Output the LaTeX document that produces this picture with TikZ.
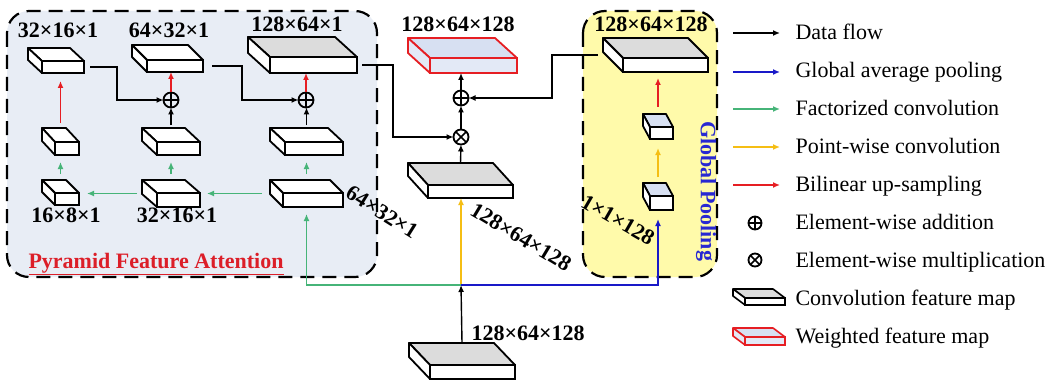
\documentclass[tikz,border=0pt]{standalone}
\usepackage{fontspec}
\setmainfont{Liberation Serif}
\usetikzlibrary{arrows.meta}
\definecolor{pfabg}{RGB}{232,237,245}
\definecolor{gpbg}{RGB}{255,250,170}
\definecolor{ared}{RGB}{230,30,35}
\definecolor{agreen}{RGB}{70,180,120}
\definecolor{ayellow}{RGB}{245,190,20}
\definecolor{ablue}{RGB}{25,25,200}
\definecolor{lgray}{RGB}{220,220,220}
\definecolor{lblue}{RGB}{215,224,242}
\definecolor{gblue}{RGB}{40,40,210}
\definecolor{tred}{RGB}{220,30,40}
\newcommand{\bigfs}{\fontsize{22}{26}\selectfont}
\def\fmlw{1.8pt}
% name, center, w, h, dx, dy, edge, top, front
\newcommand{\fmap}[9]{%
 \node[draw=#7,fill=#9,line width=\fmlw,inner sep=0pt,outer sep=0pt,minimum width=#3pt,minimum height=#4pt] (#1) at (#2) {};
 \filldraw[draw=#7,fill=#8,line width=\fmlw,line join=round] (#1.north west) -- ++(-#5,-#6) -- ++(#3,0) -- (#1.north east) -- cycle;
 \filldraw[draw=#7,fill=#9,line width=\fmlw,line join=round] (#1.north west) -- ++(-#5,-#6) -- ++(0,#4) -- (#1.south west) -- cycle;
 \path (#1.north) ++(-#5/2,-#6) coordinate (#1-t);
 \path (#1.south) ++(-#5/2,0) coordinate (#1-b);
 \path (#1.west) ++(-#5,-#6/2) coordinate (#1-w);
}
\tikzset{
 lab/.style={font=\bigfs\bfseries, anchor=base},
 txt/.style={font=\bigfs, anchor=base west},
 con/.style={line width=1.4pt,-{Latex[length=7pt,width=6pt]}},
 blk/.style={con,draw=black},
 rd/.style={con,draw=ared},
 gr/.style={con,draw=agreen},
 yl/.style={con,draw=ayellow},
 bl/.style={con,draw=ablue},
 opl/.style={circle,draw,line width=1.8pt,minimum size=15pt,inner sep=0pt,outer sep=0pt,
   path picture={\draw[line width=1.6pt] (path picture bounding box.north) -- (path picture bounding box.south) (path picture bounding box.west) -- (path picture bounding box.east);}},
 otm/.style={circle,draw,line width=1.8pt,minimum size=15pt,inner sep=0pt,outer sep=0pt,
   path picture={\draw[line width=1.6pt] (path picture bounding box.north west) -- (path picture bounding box.south east) (path picture bounding box.north east) -- (path picture bounding box.south west);}},
 dbox/.style={draw=black,line width=2.2pt,dash pattern=on 14pt off 8pt,rounded corners=22pt},
}
\begin{document}
\begin{tikzpicture}[x=1pt,y=-1pt]
\fill[white] (0,0) rectangle (1048,385);
\useasboundingbox (0,0) rectangle (1048,385);
% group frames
\draw[dbox,fill=pfabg] (7,11) rectangle (377,277);
\draw[dbox,fill=gpbg] (583,11) rectangle (717,277);
% feature maps
\fmap{A}{63,67}{42}{12}{14}{13}{black}{white}{white}
\fmap{B}{175,66}{56}{12}{15}{15}{black}{white}{white}
\fmap{C}{313.5,65}{87}{16}{22}{20}{black}{lgray}{white}
\fmap{D}{67,148.5}{24}{13}{13}{14}{black}{white}{white}
\fmap{E}{178.5,148.5}{43}{13}{15}{14}{black}{white}{white}
\fmap{F}{314,148.5}{58}{13}{15}{14}{black}{white}{white}
\fmap{G}{67,199}{24}{12}{13}{13}{black}{white}{white}
\fmap{H}{178.5,200}{43}{14}{15}{13}{black}{white}{white}
\fmap{I}{313,200}{60}{14}{13}{13}{black}{white}{white}
\fmap{R}{473.5,65.5}{87}{15}{22}{20}{ared}{lblue}{lblue!70}
\fmap{M}{470.5,191.5}{85}{13}{20}{22}{black}{lgray}{white}
\fmap{Bt}{472.5,372}{85}{14}{21}{22}{black}{lgray}{white}
\fmap{Y}{665.5,65}{85}{14}{20}{20}{black}{lgray}{white}
\fmap{U}{661.5,133}{23}{12}{7}{13}{black}{lblue}{white}
\fmap{L}{661.5,203}{23}{14}{7}{13}{black}{lblue}{white}
% operators
\node[opl] (p1) at (171,100) {};
\node[opl] (p2) at (306,100) {};
\node[opl] (pc) at (461,98) {};
\node[otm] (ox) at (461,137) {};
\coordinate (J) at (461,285);
% labels
\node[lab] (la) at (58,38) {32×16×1};
\node[lab] (lb) at (169,38) {64×32×1};
\node[lab] (lc) at (297,32) {128×64×1};
\node[lab] (lg) at (66,222) {16×8×1};
\node[lab] (lh) at (177,222) {32×16×1};
\node[lab] (lr) at (458,32) {128×64×128};
\node[lab] (ly) at (651,32) {128×64×128};
\node[lab,anchor=base west] (lbt) at (468,340) {128×64×128};
\node[lab,anchor=center,rotate=-32] (li) at (382,212) {64×32×1};
\node[lab,anchor=center,rotate=-31] (lm) at (521,237) {128×64×128};
\node[lab,anchor=center,rotate=-30] (ll) at (618,220) {1×1×128};
\node[font=\bigfs\bfseries,text=gblue,rotate=-90] (gp) at (706,191) {Global Pooling};
\node[font=\bigfs\bfseries,text=tred,anchor=base west] (pfa) at (25,268) {\underline{Pyramid Feature Attention}};
% connectors PFA
\draw[blk] ([xshift=6pt]A.east) -- ++(27,0) |- (p1.west);
\draw[blk] ([xshift=9pt]B.east) -- ++(30,0) |- (p2.west);
\draw[blk] ([xshift=5pt]C.east) -- ++(31,0) |- (ox.west);
\draw[blk,shorten <=3pt] (E-t) -- (E-t |- p1.south);
\draw[blk,shorten <=3pt] (F-t) -- (F-t |- p2.south);
\draw[rd,shorten <=5pt,shorten >=8pt] (D-t) -- (D-t |- A.south);
\draw[rd] (p1.north) -- (p1.north |- B.south);
\draw[rd] (p2.north) -- (p2.north |- C.south);
\draw[gr,shorten <=6pt,shorten >=7pt] (G-t) -- (G-t |- D.south);
\draw[gr,shorten <=6pt,shorten >=7pt] (H-t) -- (H-t |- E.south);
\draw[gr,shorten <=6pt,shorten >=7pt] (I-t) -- (I-t |- F.south);
\draw[gr,shorten <=8pt,shorten >=7pt] (I-w) -- (I-w -| H.east);
\draw[gr,shorten <=5pt,shorten >=8pt] (H-w) -- (H-w -| G.east);
% middle
\draw[blk] (M-t) -- (ox.south);
\draw[blk] (ox.north) -- (pc.south);
\draw[blk] (pc.north) -- (pc.north |- R.south);
\draw[blk] ([xshift=-5pt]Y-w) -- ++(-46,0) |- (pc.east);
\draw[blk] (Bt-t) -- (J);
\draw[yl] (J) -- (J |- M.south);
\draw[gr,shorten >=7pt] (J) -| (I-b);
\draw[bl,shorten >=9pt] (J) -| (L-b);
\draw[yl,shorten <=6pt,shorten >=9pt] (L-t) -- (L-t |- U.south);
\draw[rd,shorten <=7pt,shorten >=6pt] (U-t) -- (U-t |- Y.south);
% legend
\coordinate (k1s) at (733,33); \coordinate (k1e) at (780,33);
\coordinate (k2s) at (733,72); \coordinate (k2e) at (780,72);
\coordinate (k3s) at (733,109); \coordinate (k3e) at (780,109);
\coordinate (k4s) at (733,147); \coordinate (k4e) at (780,147);
\coordinate (k5s) at (733,185); \coordinate (k5e) at (780,185);
\draw[blk] (k1s) -- (k1e);
\draw[bl] (k2s) -- (k2e);
\draw[gr] (k3s) -- (k3e);
\draw[yl] (k4s) -- (k4e);
\draw[rd] (k5s) -- (k5e);
\node[opl,minimum size=13pt] (kp) at (755,223) {};
\node[otm,minimum size=13pt] (km) at (755,260) {};
\def\fmlw{1.6pt}
\fmap{KC}{765,301.5}{40}{7}{12}{9}{black}{lgray}{white}
\fmap{KW}{765,341}{40}{8}{12}{9}{ared}{lblue}{lblue!70}
\node[txt] (t1) at (792,40) {Data flow};
\node[txt] (t2) at (792,78) {Global average pooling};
\node[txt] (t3) at (792,115) {Factorized convolution};
\node[txt] (t4) at (792,153) {Point-wise convolution};
\node[txt] (t5) at (792,191) {Bilinear up-sampling};
\node[txt] (t6) at (792,229) {Element-wise addition};
\node[txt] (t7) at (792,267) {Element-wise multiplication};
\node[txt] (t8) at (792,305) {Convolution feature map};
\node[txt] (t9) at (792,343) {Weighted feature map};
\end{tikzpicture}
\end{document}
